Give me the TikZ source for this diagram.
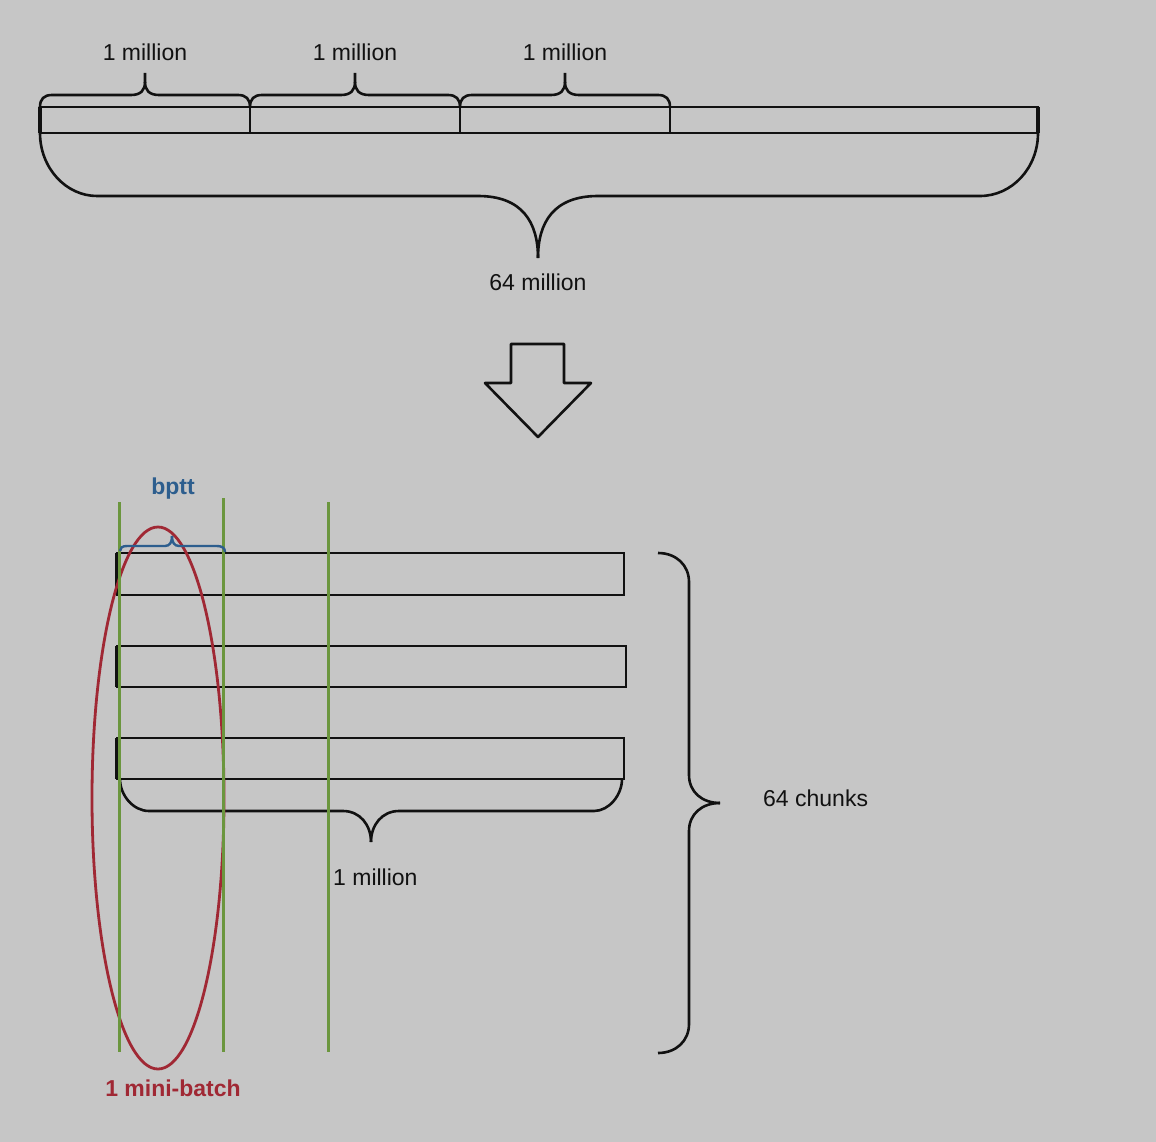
\documentclass[tikz,border=0pt]{standalone}
\usepackage{fontspec}
\setmainfont{Liberation Sans}
\definecolor{bg}{RGB}{198,198,198}
\definecolor{ink}{RGB}{17,17,17}
\definecolor{grn}{RGB}{107,150,62}
\definecolor{redc}{RGB}{160,40,52}
\definecolor{bluec}{RGB}{45,94,142}
\tikzset{
  lbl/.style={font=\fontsize{23}{28}\selectfont, text=ink, inner sep=0pt},
  boldlbl/.style={font=\fontsize{23}{28}\selectfont\bfseries, inner sep=0pt},
  brc/.style={draw=ink, line width=2.6pt, line join=round},
  bar/.style={draw=ink, line width=2.6pt},
  thickedge/.style={draw=ink, line width=4pt},
  gline/.style={draw=grn, line width=3pt},
}
\begin{document}
\begin{tikzpicture}[x=1pt,y=-1pt]
\fill[bg] (0,0) rectangle (1156,1142);
\useasboundingbox (0,0) rectangle (1156,1142);

% top bar
\draw[bar] (40,107) rectangle (1038,133);
\foreach \xx in {250,460,670} \draw[bar, line width=2pt] (\xx,107) -- (\xx,133);
\draw[thickedge] (40,107) -- (40,133);
\draw[line width=3.4pt, draw=ink] (1038,107) -- (1038,133);

% small braces
\foreach \a in {40,250,460} {
  \draw[brc] (\a,107) .. controls (\a,99) and ({\a+4},95) .. ({\a+12},95) -- ({\a+91},95)
     .. controls ({\a+101},95) and ({\a+105},90) .. ({\a+105},82) -- ({\a+105},73);
  \draw[brc] ({\a+210},107) .. controls ({\a+210},99) and ({\a+206},95) .. ({\a+198},95) -- ({\a+119},95)
     .. controls ({\a+109},95) and ({\a+105},90) .. ({\a+105},82);
}
\node[lbl] (m1) at (145,52) {1 million};
\node[lbl] (m2) at (355,52) {1 million};
\node[lbl] (m3) at (565,52) {1 million};

% big brace
\draw[brc] (40,133) .. controls (40,168) and (66,196) .. (97,196) -- (478,196)
   .. controls (522,196) and (538,222) .. (538,258);
\draw[brc] (1038,133) .. controls (1038,168) and (1012,196) .. (980,196) -- (598,196)
   .. controls (554,196) and (538,222) .. (538,258);
\node[lbl] (m64) at (538,282) {64 million};

% arrow
\draw[brc] (511,344) -- (564,344) -- (564,383) -- (591,383) -- (538,437) -- (485,383) -- (511,383) -- cycle;

% rows
\foreach \t/\r/\h in {553/624/42, 646/626/41, 738/624/41} {
  \draw[bar] (117,\t) rectangle (\r,{\t+\h});
  \draw[thickedge] (117,\t) -- (117,{\t+\h});
}

% brace under row 3
\draw[brc] (120,779) .. controls (120,795) and (133,811) .. (149,811) -- (343,811)
   .. controls (360,811) and (371,825) .. (371,842);
\draw[brc] (622,779) .. controls (622,795) and (609,811) .. (594,811) -- (399,811)
   .. controls (382,811) and (371,825) .. (371,842);
\node[lbl, anchor=west] (m1b) at (333,877) {1 million};

% right brace
\draw[brc] (658,553) .. controls (676,553) and (689,565) .. (689,582) -- (689,775)
   .. controls (689,792) and (702,803) .. (720,803);
\draw[brc] (658,1053) .. controls (676,1053) and (689,1041) .. (689,1024) -- (689,831)
   .. controls (689,814) and (702,803) .. (720,803);
\node[lbl, anchor=west] (c64) at (763,798) {64 chunks};

% red ellipse
\draw[draw=redc, line width=2.8pt] (158,798) ellipse [x radius=66, y radius=271];

% green lines
\draw[gline] (119,502) -- (119,1052);
\draw[gline] (223,498) -- (223,1052);
\draw[gline] (328,502) -- (328,1052);

% blue brace
\draw[draw=bluec, line width=2.4pt, line join=round] (120,551) .. controls (120,548) and (122,546) .. (127,546) -- (165,546)
   .. controls (170,546) and (172,542) .. (172,536);
\draw[draw=bluec, line width=2.4pt, line join=round] (225,552) .. controls (225,548) and (222,546) .. (217,546) -- (179,546)
   .. controls (174,546) and (172,542) .. (172,536);

\node[boldlbl, text=bluec] (bp) at (173,489) {bptt};
\node[boldlbl, text=redc] (mb) at (173,1088) {1 mini-batch};
\end{tikzpicture}
\end{document}
